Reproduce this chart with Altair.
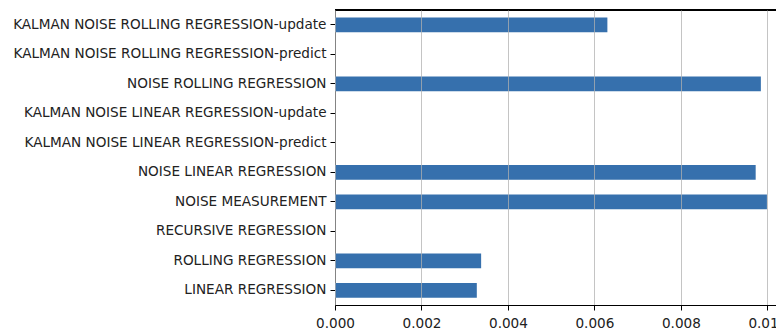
import altair as alt
import pandas as pd

categories = [
    "KALMAN NOISE ROLLING REGRESSION-update",
    "KALMAN NOISE ROLLING REGRESSION-predict",
    "NOISE ROLLING REGRESSION",
    "KALMAN NOISE LINEAR REGRESSION-update",
    "KALMAN NOISE LINEAR REGRESSION-predict",
    "NOISE LINEAR REGRESSION",
    "NOISE MEASUREMENT",
    "RECURSIVE REGRESSION",
    "ROLLING REGRESSION",
    "LINEAR REGRESSION",
]
values = [0.0063, 0.0, 0.00985, 0.0, 0.0, 0.00973, 0.00999, 0.0, 0.00338, 0.00328]
x_ticks = [0.0, 0.002, 0.004, 0.006, 0.008, 0.010]

df = pd.DataFrame({"name": categories, "value": values})

W, H = 441, 295
FONT = "DejaVu Sans"

bars = alt.Chart(df).mark_bar(color="#3670ad").encode(
    y=alt.Y(
        "name:N",
        sort=categories,
        scale=alt.Scale(paddingInner=0.5, paddingOuter=0.25),
        axis=alt.Axis(
            title=None,
            labelFont=FONT,
            labelFontSize=13.6,
            labelColor="#222222",
            labelPadding=4,
            tickSize=5,
            tickColor="#000000",
            domainColor="#000000",
            domainWidth=1,
            grid=False,
            labelLimit=400,
        ),
    ),
    x=alt.X(
        "value:Q",
        scale=alt.Scale(domain=[0, 0.0102], nice=False, zero=True),
        axis=alt.Axis(
            title=None,
            values=x_ticks,
            format=".3f",
            labelFont=FONT,
            labelFontSize=13.6,
            labelColor="#222222",
            labelPadding=6,
            tickSize=5,
            tickColor="#000000",
            domainColor="#000000",
            domainWidth=1,
            grid=True,
            gridColor="#b0b0b0",
            gridOpacity=0.75,
            gridWidth=1,
            zindex=1,
            labelFlush=False,
        ),
    ),
)

top_border = alt.Chart(df).mark_rule(color="#000000", strokeWidth=1).encode(
    x=alt.value(0), x2=alt.value(W), y=alt.value(0)
)

chart = (
    alt.layer(bars, top_border)
    .properties(
        width=W,
        height=H,
        autosize=alt.AutoSizeParams(type="none"),
        padding={"left": 327, "top": 2, "right": 0, "bottom": 28},
        background="#ffffff",
    )
    .configure_view(stroke=None)
)

chart.save("out.html", embed_options={"renderer": "svg", "actions": False})
